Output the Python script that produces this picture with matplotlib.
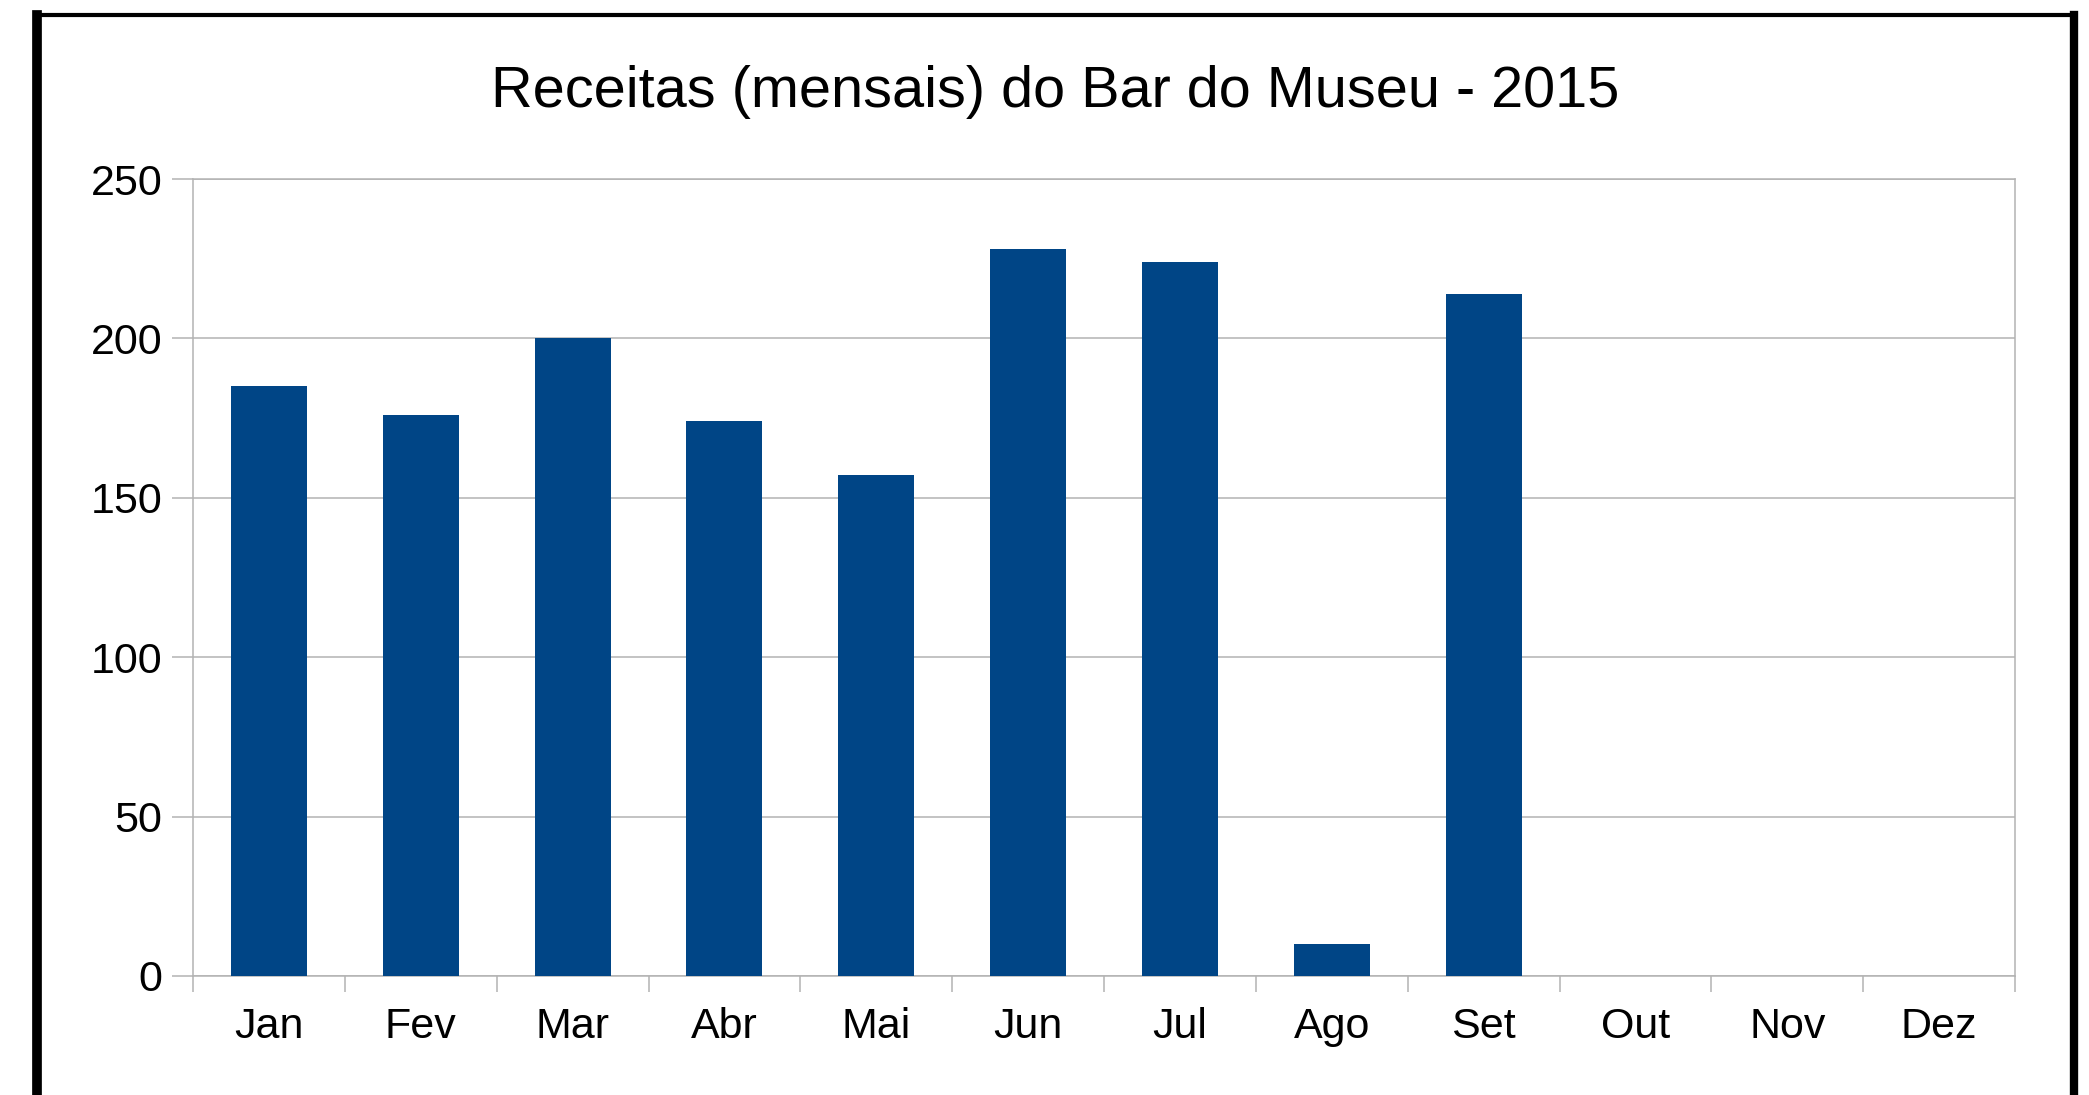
import matplotlib.pyplot as plt
import matplotlib
import numpy as np
from matplotlib.lines import Line2D

plt.rcParams['font.family'] = ['Liberation Sans', 'DejaVu Sans']

## dados do grafico
meses = ['Jan', 'Fev', 'Mar', 'Abr', 'Mai', 'Jun', 'Jul', 'Ago', 'Set', 'Out', 'Nov', 'Dez']
receitas = [185, 176, 200, 174, 157, 228, 224, 10, 214, 0, 0, 0]
yTicks = [0, 50, 100, 150, 200, 250]
titulo = 'Receitas (mensais) do Bar do Museu - 2015'

corBarra = '#004586'
corGrade = '#b3b3b3'


def plotReceitas():
    fig = plt.figure(figsize=(20.89, 10.95), dpi=100)
    ax = fig.add_axes([0.0924, 0.1087, 0.8722, 0.7278])

    x = np.arange(len(meses))
    ax.bar(x, receitas, width=0.5, color=corBarra, linewidth=0, zorder=3)

    ax.set_xlim(-0.5, len(meses) - 0.5)
    ax.set_ylim(0, 250)
    ax.set_yticks(yTicks)
    ax.yaxis.grid(True, color=corGrade, linewidth=1.1, zorder=0)
    ax.tick_params(axis='y', length=15, width=1.1, color=corGrade, pad=7,
                   labelsize=31, labelcolor='black')

    # rotulos no centro, marcas entre categorias
    ax.set_xticks(x)
    ax.set_xticklabels(meses)
    ax.set_xticks(np.arange(len(meses) + 1) - 0.5, minor=True)
    ax.tick_params(axis='x', which='major', length=0, pad=22, labelsize=31)
    ax.tick_params(axis='x', which='minor', length=11.5, width=1.1, color=corGrade)

    for s in ax.spines.values():
        s.set_color(corGrade)
        s.set_linewidth(1.1)

    fig.text(0.505, 0.902, titulo, ha='center', va='baseline', fontsize=41.5)

    # moldura preta (cortada embaixo)
    x0, x1 = 37 / 2089, 2074 / 2089
    yTop = 1 - 15 / 1095
    fig.add_artist(Line2D([x0, x0], [0, yTop], color='black', linewidth=7))
    fig.add_artist(Line2D([x1, x1], [0, yTop], color='black', linewidth=6))
    fig.add_artist(Line2D([x0, x1], [yTop, yTop], color='black', linewidth=3))

    plt.savefig('out.png', dpi=100)


def main():
    plotReceitas()

if __name__ == "__main__":
    main()
